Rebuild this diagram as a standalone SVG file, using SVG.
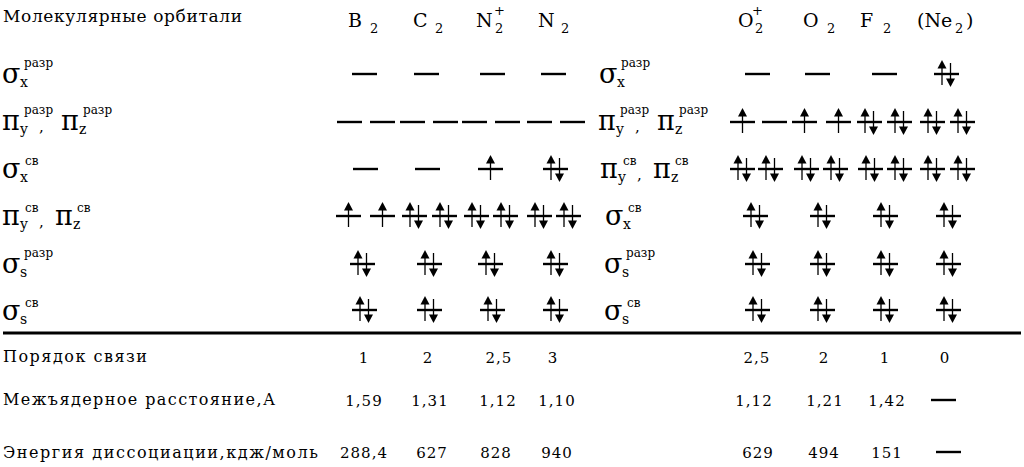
<svg xmlns="http://www.w3.org/2000/svg" width="1024" height="467" viewBox="0 0 1024 467">
<style>
text { font-family: "DejaVu Serif", "Liberation Serif", serif; fill: #000; }
.title { font-size: 17px; }
.lbl { font-size: 16px; }
.hd { font-size: 19px; }
.hs { font-size: 13px; }
.g { font-size: 27px; }
.sb { font-size: 14px; }
.sp { font-size: 12px; }
.cm { font-size: 15px; }
.num { font-size: 15px; text-anchor: middle; letter-spacing: 1px; }
.lvl { stroke: #000; stroke-width: 2.4; }
.stem { stroke: #000; stroke-width: 1.3; }
.rule { stroke: #000; stroke-width: 3; }
</style>
<defs>
<g id="dash"><line class="lvl" x1="0" y1="0" x2="25" y2="0"/></g>
<g id="up"><line class="lvl" x1="0" y1="0" x2="25" y2="0"/><line class="stem" x1="12.5" y1="11" x2="12.5" y2="-6"/><polygon points="8,-5.5 17,-5.5 12.5,-14"/></g>
<g id="pair"><line class="lvl" x1="0" y1="0" x2="25" y2="0"/><line class="stem" x1="8" y1="11" x2="8" y2="-6"/><polygon points="3.5,-5.5 12.5,-5.5 8,-14"/><line class="stem" x1="16.5" y1="-11" x2="16.5" y2="5"/><polygon points="12,4.5 21,4.5 16.5,13"/></g>
</defs>
<rect width="1024" height="467" fill="#fff"/>

<g id="title"><text class="title" x="3" y="22" textLength="239" lengthAdjust="spacing">Молекулярные орбитали</text></g>

<g id="headers">
<g id="h-B2"><text class="hd" x="348" y="27">B</text><text class="hs" x="370" y="33">2</text></g>
<g id="h-C2"><text class="hd" x="413" y="27">C</text><text class="hs" x="435" y="33">2</text></g>
<g id="h-N2p"><text class="hd" x="476" y="27">N</text><text class="hs" x="495" y="33">2</text><text class="hs" x="494" y="15">+</text></g>
<g id="h-N2"><text class="hd" x="538" y="27">N</text><text class="hs" x="561" y="33">2</text></g>
<g id="h-O2p"><text class="hd" x="738" y="27">O</text><text class="hs" x="755" y="33">2</text><text class="hs" x="752" y="15">+</text></g>
<g id="h-O2"><text class="hd" x="803" y="27">O</text><text class="hs" x="827" y="33">2</text></g>
<g id="h-F2"><text class="hd" x="860" y="27">F</text><text class="hs" x="883" y="33">2</text></g>
<g id="h-Ne2"><text class="hd" x="917" y="27">(Ne</text><text class="hs" x="955" y="33">2</text><text class="hd" x="966" y="27">)</text></g>
</g>

<g id="row-labels-left">
<g transform="translate(2,83)"><text class="g">σ</text><text class="sb" x="18" y="4">x</text><text class="sp" x="22" y="-16">разр</text></g>
<g transform="translate(2,130)"><text class="g">π</text><text class="sb" x="18" y="4">y</text><text class="sp" x="22" y="-16">разр</text><text class="cm" x="37" y="2">,</text><text class="g" x="59">π</text><text class="sb" x="77" y="4">z</text><text class="sp" x="81" y="-16">разр</text></g>
<g transform="translate(2,178)"><text class="g">σ</text><text class="sb" x="18" y="4">x</text><text class="sp" x="23" y="-13">св</text></g>
<g transform="translate(2,225)"><text class="g">π</text><text class="sb" x="18" y="4">y</text><text class="sp" x="23" y="-13">св</text><text class="cm" x="37" y="2">,</text><text class="g" x="53">π</text><text class="sb" x="71" y="4">z</text><text class="sp" x="75" y="-13">св</text></g>
<g transform="translate(2,273)"><text class="g">σ</text><text class="sb" x="18" y="4">s</text><text class="sp" x="22" y="-16">разр</text></g>
<g transform="translate(2,320)"><text class="g">σ</text><text class="sb" x="18" y="4">s</text><text class="sp" x="23" y="-13">св</text></g>
</g>

<g id="row-labels-right">
<g transform="translate(599,83)"><text class="g">σ</text><text class="sb" x="18" y="4">x</text><text class="sp" x="22" y="-16">разр</text></g>
<g transform="translate(598,130)"><text class="g">π</text><text class="sb" x="18" y="4">y</text><text class="sp" x="22" y="-16">разр</text><text class="cm" x="37" y="2">,</text><text class="g" x="59">π</text><text class="sb" x="77" y="4">z</text><text class="sp" x="81" y="-16">разр</text></g>
<g transform="translate(600,178)"><text class="g">π</text><text class="sb" x="18" y="4">y</text><text class="sp" x="23" y="-13">св</text><text class="cm" x="37" y="2">,</text><text class="g" x="53">π</text><text class="sb" x="71" y="4">z</text><text class="sp" x="75" y="-13">св</text></g>
<g transform="translate(605,225)"><text class="g">σ</text><text class="sb" x="18" y="4">x</text><text class="sp" x="23" y="-13">св</text></g>
<g transform="translate(604,273)"><text class="g">σ</text><text class="sb" x="18" y="4">s</text><text class="sp" x="22" y="-16">разр</text></g>
<g transform="translate(604,320)"><text class="g">σ</text><text class="sb" x="18" y="4">s</text><text class="sp" x="23" y="-13">св</text></g>
</g>

<g id="orbitals">
<g id="row1" transform="translate(0,74)">
<use href="#dash" x="352"/><use href="#dash" x="414"/><use href="#dash" x="480"/><use href="#dash" x="541"/>
<use href="#dash" x="745"/><use href="#dash" x="805"/><use href="#dash" x="872"/><use href="#pair" x="934"/>
</g>
<g id="row2" transform="translate(0,122)">
<use href="#dash" x="337"/><use href="#dash" x="370"/><use href="#dash" x="400"/><use href="#dash" x="433"/>
<use href="#dash" x="462"/><use href="#dash" x="495"/><use href="#dash" x="527"/><use href="#dash" x="560"/>
<use href="#up" x="730"/><use href="#dash" x="762"/><use href="#up" x="792"/><use href="#up" x="826"/>
<use href="#pair" x="857"/><use href="#pair" x="887"/><use href="#pair" x="920"/><use href="#pair" x="950"/>
</g>
<g id="row3" transform="translate(0,169)">
<use href="#dash" x="353"/><use href="#dash" x="415"/><use href="#up" x="478"/><use href="#pair" x="543"/>
<use href="#pair" x="730"/><use href="#pair" x="758"/><use href="#pair" x="794"/><use href="#pair" x="823"/>
<use href="#pair" x="858"/><use href="#pair" x="887"/><use href="#pair" x="920"/><use href="#pair" x="950"/>
</g>
<g id="row4" transform="translate(0,216)">
<use href="#up" x="336"/><use href="#up" x="370"/><use href="#pair" x="402"/><use href="#pair" x="432"/>
<use href="#pair" x="464"/><use href="#pair" x="493"/><use href="#pair" x="527"/><use href="#pair" x="556"/>
<use href="#pair" x="743"/><use href="#pair" x="810"/><use href="#pair" x="873"/><use href="#pair" x="936"/>
</g>
<g id="row5" transform="translate(0,264)">
<use href="#pair" x="350"/><use href="#pair" x="417"/><use href="#pair" x="478"/><use href="#pair" x="543"/>
<use href="#pair" x="745"/><use href="#pair" x="810"/><use href="#pair" x="873"/><use href="#pair" x="936"/>
</g>
<g id="row6" transform="translate(0,310)">
<use href="#pair" x="352"/><use href="#pair" x="417"/><use href="#pair" x="480"/><use href="#pair" x="543"/>
<use href="#pair" x="745"/><use href="#pair" x="810"/><use href="#pair" x="873"/><use href="#pair" x="936"/>
</g>
</g>

<line id="rule" class="rule" x1="3" y1="333" x2="1021" y2="333"/>

<g id="bond-order">
<text class="lbl" x="3" y="362" textLength="144" lengthAdjust="spacing">Порядок связи</text>
<text class="num" x="364" y="363">1</text><text class="num" x="428" y="363">2</text><text class="num" x="499" y="363">2,5</text><text class="num" x="553" y="363">3</text>
<text class="num" x="757" y="363">2,5</text><text class="num" x="824" y="363">2</text><text class="num" x="885" y="363">1</text><text class="num" x="945" y="363">0</text>
</g>
<g id="distance">
<text class="lbl" x="3" y="405" textLength="272" lengthAdjust="spacing">Межъядерное расстояние,А</text>
<text class="num" x="364" y="406">1,59</text><text class="num" x="430" y="406">1,31</text><text class="num" x="498" y="406">1,12</text><text class="num" x="557" y="406">1,10</text>
<text class="num" x="754" y="406">1,12</text><text class="num" x="825" y="406">1,21</text><text class="num" x="887" y="406">1,42</text>
<line class="lvl" x1="931" y1="400" x2="956" y2="400"/>
</g>
<g id="energy">
<text class="lbl" x="3" y="458" textLength="315" lengthAdjust="spacing">Энергия диссоциации,кдж/моль</text>
<text class="num" x="364" y="458">288,4</text><text class="num" x="432" y="458">627</text><text class="num" x="496" y="458">828</text><text class="num" x="557" y="458">940</text>
<text class="num" x="758" y="458">629</text><text class="num" x="824" y="458">494</text><text class="num" x="887" y="458">151</text>
<line class="lvl" x1="936" y1="452" x2="961" y2="452"/>
</g>
</svg>
